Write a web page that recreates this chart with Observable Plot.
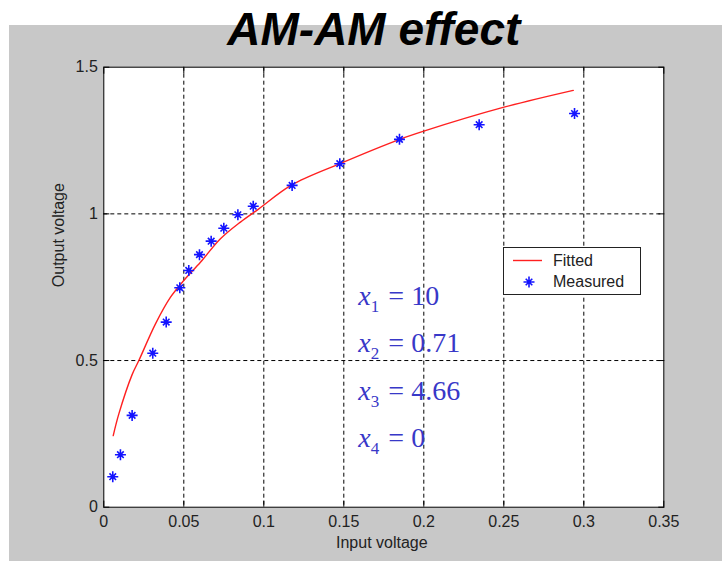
<!DOCTYPE html>
<html>
<head>
<meta charset="utf-8">
<script src="https://cdn.jsdelivr.net/npm/d3@7"></script>
<script src="https://cdn.jsdelivr.net/npm/@observablehq/plot@0.6"></script>
<style>
  body { margin: 0; background: #fff; width: 722px; height: 561px; position: relative; overflow: hidden; font-family: "Liberation Sans", Arial, sans-serif; }
  #bg { position: absolute; left: 9px; top: 25px; width: 713px; height: 536px; background: #c8c8c8; }
  #chart { position: absolute; left: 0; top: 0; }
</style>
</head>
<body>
<div id="bg"></div>
<div id="chart"></div>
<script>
// Fitted curve
const fitX = [0.0059, 0.0094, 0.0177, 0.0219, 0.0323, 0.0417, 0.05, 0.0604, 0.0729, 0.0854, 0.0969, 0.117, 0.148, 0.185, 0.2, 0.249, 0.2934];
const fitY = [0.244, 0.318, 0.452, 0.5, 0.625, 0.716, 0.773, 0.835, 0.915, 0.972, 1.017, 1.097, 1.172, 1.254, 1.282, 1.362, 1.421];
// Measured points
const measX = [0.0056, 0.0104, 0.0177, 0.0306, 0.039, 0.0475, 0.0531, 0.0598, 0.0671, 0.075, 0.0838, 0.0934, 0.1177, 0.1475, 0.1848, 0.2346, 0.2942];
const measY = [0.104, 0.179, 0.313, 0.525, 0.631, 0.748, 0.807, 0.861, 0.907, 0.951, 0.997, 1.026, 1.097, 1.171, 1.254, 1.304, 1.342];
// Axis ticks
const xTicks = [0, 0.05, 0.1, 0.15, 0.2, 0.25, 0.3, 0.35];
const xTickLabels = ["0", "0.05", "0.1", "0.15", "0.2", "0.25", "0.3", "0.35"];
const yTicks = [0, 0.5, 1, 1.5];
const yTickLabels = ["0", "0.5", "1", "1.5"];
// Fitted parameters annotation
const paramIndex = ["1", "2", "3", "4"];
const paramValues = ["10", "0.71", "4.66", "0"];
const paramRowY = [0.688, 0.528, 0.364, 0.205];
const paramX = 0.159;

const fit = fitX.map((x, i) => ({x, y: fitY[i]}));
const meas = measX.map((x, i) => ({x, y: measY[i]}));
const params = paramIndex.map((k, i) => ({k, v: paramValues[i], y: paramRowY[i]}));

const star = {
  draw(ctx, size) {
    const r = Math.sqrt(size / Math.PI);
    const d = r * 0.6;
    ctx.moveTo(-r, 0); ctx.lineTo(r, 0);
    ctx.moveTo(0, -r); ctx.lineTo(0, r);
    ctx.moveTo(-d, -d); ctx.lineTo(d, d);
    ctx.moveTo(-d, d); ctx.lineTo(d, -d);
  }
};

const blue = "#1414ff";
const annoColor = "#3838c8";
const tickFont = 16;
const serif = "'Liberation Serif', 'Times New Roman', serif";

const chart = Plot.plot({
  width: 722,
  height: 561,
  marginLeft: 103.3,
  marginRight: 58.7,
  marginTop: 66.7,
  marginBottom: 54.3,
  style: { background: "transparent", fontFamily: "'Liberation Sans', Arial, sans-serif" },
  x: { domain: [0, 0.35] },
  y: { domain: [0, 1.5] },
  marks: [
    Plot.frame({ fill: "white", stroke: null }),
    Plot.ruleX(xTicks.slice(1, -1), { stroke: "black", strokeDasharray: "4,3", strokeWidth: 1 }),
    Plot.ruleY(yTicks.slice(1, -1), { stroke: "black", strokeDasharray: "4,3", strokeWidth: 1 }),
    Plot.frame({ stroke: "black", strokeWidth: 1 }),
    // inward ticks
    Plot.axisX({ anchor: "bottom", ticks: xTicks, tickSize: 6, dy: -6, fill: "none", stroke: "black", label: null }),
    Plot.axisX({ anchor: "top", ticks: xTicks, tickSize: 6, dy: 6, fill: "none", stroke: "black", label: null }),
    Plot.axisY({ anchor: "left", ticks: yTicks, tickSize: 6, dx: 6, fill: "none", stroke: "black", label: null }),
    Plot.axisY({ anchor: "right", ticks: yTicks, tickSize: 6, dx: -6, fill: "none", stroke: "black", label: null }),
    // tick labels
    Plot.axisX({ anchor: "bottom", ticks: xTicks, tickFormat: (d, i) => xTickLabels[i], tickSize: 0, tickPadding: 8, fontSize: tickFont, fill: "#222", label: null }),
    Plot.axisY({ anchor: "left", ticks: yTicks, tickFormat: (d, i) => yTickLabels[i], tickSize: 0, tickPadding: 6, fontSize: tickFont, fill: "#222", label: null }),
    // axis labels
    Plot.text(["Input voltage"], { frameAnchor: "bottom", dx: -2, dy: 41, lineAnchor: "bottom", fontSize: 16, fill: "#222" }),
    Plot.text(["Output voltage"], { frameAnchor: "left", dx: -45, rotate: -90, fontSize: 16, fill: "#222" }),
    // title
    Plot.text(["AM-AM effect"], { frameAnchor: "top", dx: -10, dy: -21.7, lineAnchor: "bottom", fontSize: 46, fontWeight: "bold", fontStyle: "italic", fill: "black" }),
    // data
    Plot.line(fit, { x: "x", y: "y", stroke: "#ff2020", strokeWidth: 1.4, curve: "catmull-rom" }),
    Plot.dot(meas, { x: "x", y: "y", symbol: star, r: 5.5, stroke: blue, strokeWidth: 1.6, fill: "none" }),
    Plot.dot(meas, { x: "x", y: "y", r: 2, fill: blue, stroke: null }),
    // parameter annotation
    Plot.text(params, { x: () => paramX, y: "y", text: () => "x", textAnchor: "start", lineAnchor: "bottom", fontFamily: serif, fontStyle: "italic", fontSize: 28, fill: annoColor }),
    Plot.text(params, { x: () => paramX, y: "y", text: "k", textAnchor: "start", lineAnchor: "bottom", dx: 12.5, dy: 7, fontFamily: serif, fontSize: 17, fill: annoColor }),
    Plot.text(params, { x: () => paramX, y: "y", text: () => "=", textAnchor: "start", lineAnchor: "bottom", dx: 30, fontFamily: serif, fontSize: 28, fill: annoColor }),
    Plot.text(params, { x: () => paramX, y: "y", text: "v", textAnchor: "start", lineAnchor: "bottom", dx: 53, fontFamily: serif, fontSize: 28, fill: annoColor })
  ]
});

document.getElementById("chart").appendChild(chart);

// legend
const svg = d3.select(chart);
const lg = svg.append("g").attr("text-anchor", "start");
lg.append("rect").attr("x", 503.5).attr("y", 247.5).attr("width", 137).attr("height", 47)
  .attr("fill", "white").attr("stroke", "#222").attr("stroke-width", 1);
lg.append("line").attr("x1", 513).attr("x2", 542).attr("y1", 260.5).attr("y2", 260.5)
  .attr("stroke", "#ff2020").attr("stroke-width", 1.4);
const sp = d3.path(); star.draw(sp, 5.5 * 5.5 * Math.PI);
lg.append("path").attr("d", sp.toString()).attr("transform", "translate(529,282)")
  .attr("stroke", blue).attr("stroke-width", 1.6).attr("fill", "none");
lg.append("circle").attr("cx", 529).attr("cy", 282).attr("r", 2).attr("fill", blue);
lg.append("text").attr("x", 553).attr("y", 266).attr("font-size", 16).attr("fill", "#222").attr("text-anchor", "start").text("Fitted");
lg.append("text").attr("x", 553).attr("y", 286.5).attr("font-size", 16).attr("fill", "#222").attr("text-anchor", "start").text("Measured");
</script>
</body>
</html>
